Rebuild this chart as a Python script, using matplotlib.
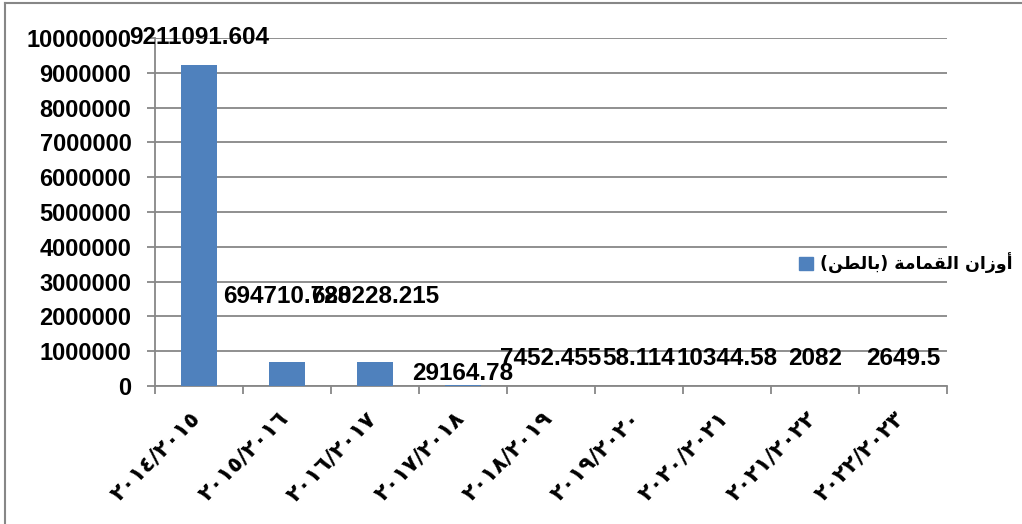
import numpy as np
import matplotlib
matplotlib.use("Agg")
import matplotlib.pyplot as plt
from matplotlib.patches import Patch
from matplotlib.lines import Line2D
from matplotlib.ticker import FuncFormatter, MultipleLocator
import matplotlib.transforms as mtransforms

# == Datos ==
periodos = ["٢٠١٤/٢٠١٥", "٢٠١٥/٢٠١٦", "٢٠١٦/٢٠١٧", "٢٠١٧/٢٠١٨", "٢٠١٨/٢٠١٩",
            "٢٠١٩/٢٠٢٠", "٢٠٢٠/٢٠٢١", "٢٠٢١/٢٠٢٢", "٢٠٢٢/٢٠٢٣"]
pesos = [9211091.604, 694710.728, 680228.215, 29164.78, 7452.455,
         58.114, 10344.58, 2082, 2649.5]
serie = "أوزان القمامة (بالطن)"

# altura de cada etiqueta (fraccion del eje), movidas a mano en el original
label_y = [1.0, 0.256, 0.256, 0.037, 0.078, 0.078, 0.078, 0.078, 0.078]

AZUL = "#4F81BD"
GRIS = "#878787"


# matplotlib no hace shaping del arabe: formas de presentacion + orden visual
FORMAS = {
    "ا": ("\uFE8D", "\uFE8E", None, None),
    "أ": ("\uFE83", "\uFE84", None, None),
    "و": ("\uFEED", "\uFEEE", None, None),
    "ز": ("\uFEAF", "\uFEB0", None, None),
    "ة": ("\uFE93", "\uFE94", None, None),
    "ب": ("\uFE8F", "\uFE90", "\uFE91", "\uFE92"),
    "ط": ("\uFEC1", "\uFEC2", "\uFEC3", "\uFEC4"),
    "ق": ("\uFED5", "\uFED6", "\uFED7", "\uFED8"),
    "ل": ("\uFEDD", "\uFEDE", "\uFEDF", "\uFEE0"),
    "م": ("\uFEE1", "\uFEE2", "\uFEE3", "\uFEE4"),
    "ن": ("\uFEE5", "\uFEE6", "\uFEE7", "\uFEE8"),
}


def _dual(c):
    return c in FORMAS and FORMAS[c][2] is not None


def shape_ar(txt):
    out = []
    for i, c in enumerate(txt):
        if c not in FORMAS:
            out.append(c)
            continue
        prev = txt[i - 1] if i > 0 else ""
        nxt = txt[i + 1] if i + 1 < len(txt) else ""
        une_prev = _dual(prev)
        une_next = _dual(c) and nxt in FORMAS
        iso, fin, ini, med = FORMAS[c]
        if une_prev and une_next:
            out.append(med)
        elif une_prev:
            out.append(fin)
        elif une_next:
            out.append(ini)
        else:
            out.append(iso)
    vis = "".join(reversed(out))
    return vis.translate(str.maketrans("()", ")("))


def _fmt(v):
    return f"{v:.3f}".rstrip("0").rstrip(".")


fig = plt.figure(figsize=(10.22, 5.24), dpi=100)
ax = fig.add_axes([155 / 1022, 1 - 386 / 524, 792 / 1022, 348 / 524])

x = np.arange(len(periodos))
ax.bar(x, pesos, width=0.4, color=AZUL, zorder=3)

ax.set_xlim(-0.5, len(periodos) - 0.5)
ax.set_ylim(0, 10_000_000)
ax.yaxis.set_major_locator(MultipleLocator(1_000_000))
ax.yaxis.set_major_formatter(FuncFormatter(lambda v, p: f"{int(v)}"))
ax.grid(axis="y", color=GRIS, lw=1.3, zorder=0)

for s in ["top", "right"]:
    ax.spines[s].set_visible(False)
for s in ["left", "bottom"]:
    ax.spines[s].set_color(GRIS)
    ax.spines[s].set_linewidth(1.3)

ax.tick_params(axis="y", length=6, width=1.3, color=GRIS, pad=11)
for t in ax.get_yticklabels():
    t.set_fontfamily("Liberation Sans")
    t.set_fontweight("bold")
    t.set_fontsize(17)

ax.set_xticks(x)
ax.set_xticklabels(periodos, rotation=45, ha="right", rotation_mode="anchor",
                   fontsize=16, fontweight="bold", family="DejaVu Sans")
ax.set_xticks(np.arange(-0.5, len(periodos)), minor=True)
ax.tick_params(axis="x", which="major", length=0, pad=16)
ax.tick_params(axis="x", which="minor", length=6, width=1.3, color=GRIS)
desplaza = mtransforms.ScaledTranslation(-9 / 100, 0, fig.dpi_scale_trans)
for t in ax.get_xticklabels():
    t.set_transform(t.get_transform() + desplaza)

trans = mtransforms.blended_transform_factory(ax.transData, ax.transAxes)
for i, v in enumerate(pesos):
    ax.text(i, label_y[i], _fmt(v), transform=trans, ha="center", va="center",
            fontsize=17.5, fontweight="bold", family="Liberation Sans", zorder=5)

ax.legend(handles=[Patch(color=AZUL)], labels=[shape_ar(serie)],
          loc="center left", bbox_to_anchor=(799 / 1022, 1 - 263 / 524),
          bbox_transform=fig.transFigure, frameon=False,
          handlelength=0.8, handleheight=0.8, handletextpad=0.4,
          borderpad=0, borderaxespad=0,
          prop={"family": "DejaVu Sans", "weight": "bold", "size": 12.5})

# borde del area del grafico
fig.add_artist(Line2D([5 / 1022, 5 / 1022], [0, 1 - 3 / 524], color=GRIS, lw=1.5))
fig.add_artist(Line2D([5 / 1022, 1], [1 - 3 / 524, 1 - 3 / 524], color=GRIS, lw=1.5))

fig.savefig("out.png", dpi=100)
